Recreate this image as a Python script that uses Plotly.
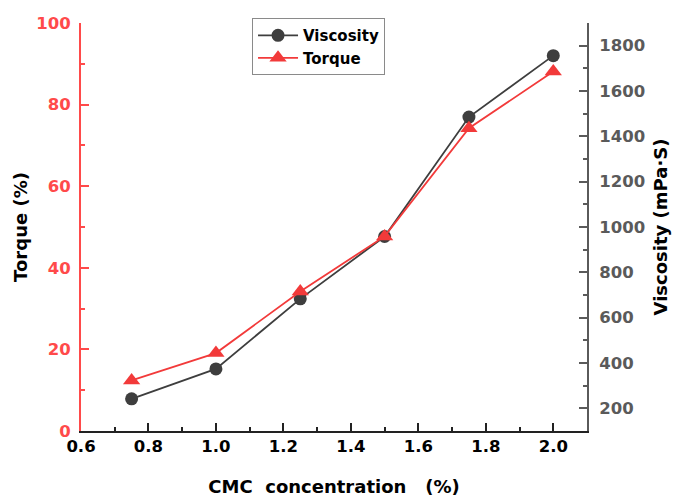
import plotly.graph_objects as go

cmc = [0.75, 1.0, 1.25, 1.5, 1.75, 2.0]
viscosity = [242, 374, 683, 958, 1485, 1756]
torque = [12.4, 19.1, 34.2, 47.7, 74.2, 88.1]

x_ticks = [0.6, 0.8, 1.0, 1.2, 1.4, 1.6, 1.8, 2.0]
x_labels = ["0.6", "0.8", "1.0", "1.2", "1.4", "1.6", "1.8", "2.0"]
torque_ticks = [0, 20, 40, 60, 80, 100]
visc_ticks = [200, 400, 600, 800, 1000, 1200, 1400, 1600, 1800]

RED = "#F23A3A"
RED_TXT = "#FF4A4A"
GRAY = "#3E3E3E"
AXGRAY = "#5A5A5A"
FONT = "DejaVu Sans, Arial, sans-serif"
TICK = 16.5

fig = go.Figure()
fig.add_trace(go.Scatter(
    x=cmc, y=viscosity, name="Viscosity", yaxis="y",
    mode="lines+markers",
    line=dict(color=GRAY, width=1.8),
    marker=dict(symbol="circle", size=13, color=GRAY),
))
fig.add_trace(go.Scatter(
    x=cmc, y=torque, name="Torque", yaxis="y2",
    mode="lines+markers",
    line=dict(color=RED, width=1.8),
    marker=dict(symbol="triangle-up", size=15, color=RED),
))

fig.update_layout(
    width=673, height=497,
    margin=dict(l=81, r=86, t=23, b=66, autoexpand=False),
    paper_bgcolor="white", plot_bgcolor="white",
    font=dict(family=FONT, size=17, color="black"),
    showlegend=True,
    legend=dict(
        x=0.338, y=1.012, xanchor="left", yanchor="top",
        bgcolor="white", bordercolor="#8A8A8A", borderwidth=1,
        font=dict(family=FONT, size=15, color="black", weight="bold"),
        traceorder="normal", tracegroupgap=0, itemwidth=40,
    ),
    xaxis=dict(
        range=[0.6, 2.1], tickvals=x_ticks, ticktext=x_labels, automargin=False,
        showgrid=False, zeroline=False,
        showline=True, linecolor="#222222", linewidth=2,
        ticks="inside", ticklen=8, tickwidth=2, tickcolor="#222222",
        minor=dict(dtick=0.1, tick0=0.6, ticks="inside", ticklen=4, tickwidth=1.5, tickcolor="#222222"),
        tickfont=dict(family=FONT, size=TICK, color="black", weight="bold"),
        ticklabelstandoff=-1,
        title=dict(text="CMC  concentration   (%)", standoff=27,
                   font=dict(family=FONT, size=18, color="black", weight="bold")),
    ),
    yaxis=dict(
        side="right", range=[100, 1900], tickvals=visc_ticks, automargin=False,
        showgrid=False, zeroline=False,
        showline=True, linecolor=AXGRAY, linewidth=2,
        ticks="inside", ticklen=8, tickwidth=2, tickcolor=AXGRAY,
        minor=dict(dtick=100, tick0=100, ticks="inside", ticklen=4, tickwidth=1.5, tickcolor=AXGRAY),
        tickfont=dict(family=FONT, size=TICK, color=AXGRAY, weight="bold"),
        ticklabelstandoff=7,
        title=dict(text="Viscosity (mPa·S)", standoff=10,
                   font=dict(family=FONT, size=18, color="black", weight="bold")),
    ),
    yaxis2=dict(
        overlaying="y", side="left", range=[0, 100], tickvals=torque_ticks, automargin=False,
        showgrid=False, zeroline=False,
        showline=True, linecolor=RED_TXT, linewidth=2,
        ticks="inside", ticklen=8, tickwidth=2, tickcolor=RED_TXT,
        minor=dict(dtick=10, tick0=0, ticks="inside", ticklen=4, tickwidth=1.5, tickcolor=RED_TXT),
        tickfont=dict(family=FONT, size=TICK, color=RED_TXT, weight="bold"),
        ticklabelstandoff=5,
        title=dict(text="Torque (%)", standoff=4,
                   font=dict(family=FONT, size=18, color="black", weight="bold")),
    ),
)

fig.write_html("out.html", config={"displayModeBar": False},
               post_script="document.body.style.margin='0';")
